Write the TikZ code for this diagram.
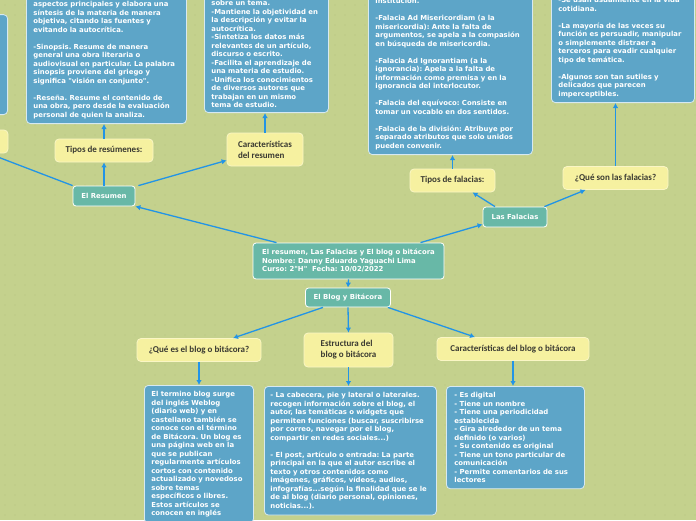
\documentclass[tikz,border=0pt]{standalone}
\usepackage{fontspec}
\usepackage{tikz}
\usetikzlibrary{positioning,arrows.meta}

\newfontfamily\boxfont{DejaVu Sans}
\newfontfamily\notefont{Carlito}
\frenchspacing

\definecolor{bgc}{HTML}{C4D18D}
\definecolor{dotc}{HTML}{B4C27E}
\definecolor{yelc}{HTML}{F6F1A0}
\definecolor{yelline}{HTML}{FAF6C4}
\definecolor{tealc}{HTML}{68B8A7}
\definecolor{bluec}{HTML}{5DA5C8}
\definecolor{blueline}{HTML}{D6E9F2}
\definecolor{arrowc}{HTML}{2294E6}
\definecolor{notetext}{HTML}{3A3A32}

\tikzset{
  topic/.style={draw=white, fill=tealc, line width=0.8pt, rounded corners=3pt,
    text=white, font=\boxfont\bfseries\fontsize{6.9}{8.5}\selectfont, inner sep=2pt},
  subtopic/.style={draw=yelline, fill=yelc, line width=0.8pt, rounded corners=4pt,
    text=notetext, font=\notefont\bfseries\fontsize{9}{11}\selectfont,
    minimum height=23pt, inner sep=2pt},
  bluebox/.style={draw=blueline, fill=bluec, line width=0.8pt, rounded corners=4pt,
    text=white, font=\boxfont\bfseries\fontsize{6.9}{8.5}\selectfont,
    align=left, inner xsep=7pt, inner ysep=6pt},
  conn/.style={draw=arrowc, line width=1.3pt, -{Latex[length=5pt,width=5.5pt]}}
}

\begin{document}
\begin{tikzpicture}[x=1pt, y=-1pt]

% Background
\useasboundingbox (0,0) rectangle (696,520);
\fill[bgc] (0,0) rectangle (696,520);
\clip (0,0) rectangle (696,520);
\foreach \i in {0,...,69}
  \foreach \j in {0,...,52}
    \fill[dotc] (\i*10+5, \j*10+5) circle (0.7);

% Central topic
\node[topic, minimum width=191pt, minimum height=36pt, align=left] (central) at (348.5,261)
  {El resumen, Las Falacias y El blog o bitácora\\Nombre: Danny Eduardo Yaguachi Lima\\Curso: 2"H"\ \ Fecha: 10/02/2022};

% Main topics
\node[topic, minimum width=62pt, minimum height=20pt] (resumen) at (104,196) {El Resumen};
\node[topic, minimum width=64pt, minimum height=20pt] (falacias) at (515,217) {Las Falacias};
\node[topic, minimum width=85pt, minimum height=19pt] (blog) at (348,297.5) {El Blog y Bitácora};

% Subtopics
\node[subtopic, minimum width=106pt] (leftnote) at (-45,141.5) {};
\node[subtopic, minimum width=98pt] (tiposres) at (104,150.5) {Tipos de resúmenes:};
\node[subtopic, minimum width=76pt, minimum height=33pt, align=left] (caractres) at (265,149.5) {Características\\del resumen};
\node[subtopic, minimum width=85pt] (tiposfal) at (452.5,180.5) {Tipos de falacias:};
\node[subtopic, minimum width=105pt] (quefal) at (615.5,178) {¿Qué son las falacias?};
\node[subtopic, minimum width=124pt] (queblog) at (199,350) {¿Qué es el blog o bitácora?};
\node[subtopic, minimum width=89pt, minimum height=34pt, align=left] (estructura) at (348.5,350) {Estructura del\\blog o bitácora};
\node[subtopic, minimum width=152pt] (caractblog) at (513,349) {Características del blog o bitácora};

% Notes above
\node[bluebox, anchor=south east, minimum width=120pt, minimum height=100pt] (leftbox) at (8,115) {};

\node[bluebox, anchor=south west, text width=146pt, inner ysep=5pt] (tiposresbox) at (26,124)
  {aspectos principales y elabora una\\síntesis de la materia de manera\\objetiva, citando las fuentes y\\evitando la autocrítica.\\[8.5pt]
   -Sinopsis. Resume de manera\\general una obra literaria o\\audiovisual en particular. La palabra\\sinopsis proviene del griego y\\significa "visión en conjunto".\\[8.5pt]
   -Reseña. Resume el contenido de\\una obra, pero desde la evaluación\\personal de quien la analiza.};

\node[bluebox, anchor=south west, text width=110pt, inner ysep=5pt] (caractresbox) at (204,113)
  {sobre un tema.\\-Mantiene la objetividad en\\la descripción y evitar la\\autocrítica.\\-Sintetiza los datos más\\relevantes de un artículo,\\discurso o escrito.\\-Facilita el aprendizaje de\\una materia de estudio.\\-Unifica los conocimientos\\de diversos autores que\\trabajan en un mismo\\tema de estudio.};

\node[bluebox, anchor=south west, text width=150pt, inner ysep=5pt] (tiposfalbox) at (368,155)
  {institución.\\[8.5pt]
   -Falacia Ad Misericordiam (a la\\misericordia): Ante la falta de\\argumentos, se apela a la compasión\\en búsqueda de misericordia.\\[8.5pt]
   -Falacia Ad Ignorantiam (a la\\ignorancia): Apela a la falta de\\información como premisa y en la\\ignorancia del interlocutor.\\[8.5pt]
   -Falacia del equívoco: Consiste en\\tomar un vocablo en dos sentidos.\\[8.5pt]
   -Falacia de la división: Atribuye por\\separado atributos que solo unidos\\pueden convenir.};

\node[bluebox, anchor=south west, text width=129pt, inner ysep=5pt] (quefalbox) at (551,103)
  {-Se usan usualmente en la vida\\cotidiana.\\[8.5pt]
   -La mayoría de las veces su\\función es persuadir, manipular\\o simplemente distraer a\\terceros para evadir cualquier\\tipo de temática.\\[8.5pt]
   -Algunos son tan sutiles y\\delicados que parecen\\imperceptibles.};

% Notes below
\node[bluebox, anchor=north west, text width=95pt] (queblogbox) at (144,385)
  {El termino blog surge\\del inglés Weblog\\(diario web) y en\\castellano también se\\conoce con el término\\de Bitácora. Un blog es\\una página web en la\\que se publican\\regularmente artículos\\cortos con contenido\\actualizado y novedoso\\sobre temas\\específicos o libres.\\Estos artículos se\\conocen en inglés};

\node[bluebox, anchor=north west, text width=160pt, inner xsep=6pt] (estructurabox) at (264,386)
  {- La cabecera, pie y lateral o laterales.\\recogen información sobre el blog, el\\autor, las temáticas o widgets que\\permiten funciones (buscar, suscribirse\\por correo, navegar por el blog,\\compartir en redes sociales...)\\[8.5pt]
   - El post, artículo o entrada: La parte\\principal en la que el autor escribe el\\texto y otros contenidos como\\imágenes, gráficos, vídeos, audios,\\infografías...según la finalidad que se le\\de al blog (diario personal, opiniones,\\noticias...).\\[20pt]};

\node[bluebox, anchor=north west, text width=122pt, inner xsep=8pt] (caractblogbox) at (446,386)
  {- Es digital\\- Tiene un nombre\\- Tiene una periodicidad\\establecida\\- Gira alrededor de un tema\\definido (o varios)\\- Su contenido es original\\- Tiene un tono particular de\\comunicación\\- Permite comentarios de sus\\lectores};

% Connectors from the central topic
\draw[conn] ([xshift=-72pt]central.north) -- (resumen.south east);
\draw[conn] ([xshift=72pt]central.north) -- ([yshift=3pt]falacias.south west);
\draw[conn] (central.south) -- (blog.north);

% El Resumen
\draw[conn] (resumen.north west) -- ([xshift=-20pt]leftnote.south east);
\draw[conn] (resumen.north) -- (tiposres.south);
\draw[conn] ([xshift=3pt]resumen.north east) -- ([yshift=6pt]caractres.south west);
\draw[conn] (tiposres.north) -- (tiposres.north |- tiposresbox.south);
\draw[conn] (caractres.north) -- (caractres.north |- caractresbox.south);

% Las Falacias
\draw[conn] ([xshift=-20pt]falacias.north) -- ([xshift=20pt]tiposfal.south);
\draw[conn] ([xshift=-3pt]falacias.north east) -- ([xshift=-30pt]quefal.south);
\draw[conn] (tiposfal.north) -- (tiposfal.north |- tiposfalbox.south);
\draw[conn] (quefal.north) -- (quefal.north |- quefalbox.south);

% El Blog y Bitacora
\draw[conn] ([xshift=-25pt]blog.south) -- ([xshift=34pt]queblog.north);
\draw[conn] (blog.south) -- (estructura.north);
\draw[conn] ([xshift=-3pt]blog.south east) -- ([xshift=-38pt]caractblog.north);
\draw[conn] (queblog.south) -- (queblog.south |- queblogbox.north);
\draw[conn] (estructura.south) -- (estructura.south |- estructurabox.north);
\draw[conn] (caractblog.south) -- (caractblog.south |- caractblogbox.north);

\end{tikzpicture}
\end{document}
